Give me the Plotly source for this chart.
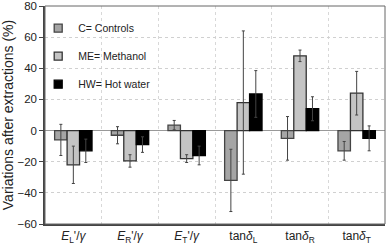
import plotly.graph_objects as go

categories = ["<i>E</i><sub>L</sub>'/<i>γ</i>", "<i>E</i><sub>R</sub>'/<i>γ</i>", "<i>E</i><sub>T</sub>'/<i>γ</i>",
              "tan<i>δ</i><sub>L</sub>", "tan<i>δ</i><sub>R</sub>", "tan<i>δ</i><sub>T</sub>"]
x_pos = [0, 1, 2, 3, 4, 5]

controls = [-6, -3, 3.5, -32, -5, -13]
controls_err = [10, 5.5, 3, 20, 14, 6]
methanol = [-22, -19.5, -18, 18, 48, 24]
methanol_err = [12, 4, 2.5, 46, 3.7, 14]
hotwater = [-13, -9, -16, 23.5, 14, -5]
hotwater_err = [7.5, 5, 6, 15, 7.7, 8]

series = [
    ("C= Controls", controls, controls_err, "#a5a5a5", "#444444"),
    ("ME= Methanol", methanol, methanol_err, "#c4c4c4", "#333333"),
    ("HW= Hot water", hotwater, hotwater_err, "#000000", "#000000"),
]

fig = go.Figure()
for name, vals, errs, fill, line in series:
    fig.add_trace(go.Bar(
        x=x_pos, y=vals, name=name, showlegend=False,
        marker=dict(color=fill, line=dict(color=line, width=1.3)),
        error_y=dict(type="data", array=errs, visible=True, color="#444444", thickness=1, width=1.5),
    ))
# legend entries (small square keys)
for name, vals, errs, fill, line in series:
    fig.add_trace(go.Scatter(
        x=[None], y=[None], mode="markers", name=name, legendgroup=name,
        marker=dict(symbol="square", size=8, color=fill, line=dict(color=line, width=1.3)),
    ))

fig.update_layout(
    width=387, height=247,
    margin=dict(l=45, r=2, t=6, b=23, autoexpand=False),
    paper_bgcolor="white", plot_bgcolor="white",
    barmode="group", bargap=0.34, bargroupgap=0,
    font=dict(family="Arial, Liberation Sans, sans-serif", size=11, color="#222222"),
    legend=dict(x=-0.02, y=0.965, xanchor="left", yanchor="top", bgcolor="rgba(0,0,0,0)",
                tracegroupgap=9, font=dict(size=10.5), itemwidth=30),
    showlegend=True,
)
fig.update_xaxes(
    range=[-0.5, 5.5], tickmode="array", tickvals=x_pos, ticktext=categories,
    showgrid=False, showline=True, linecolor="#444444", linewidth=1.5, mirror=False,
    ticks="", zeroline=False, automargin=False,
    minor=dict(tickmode="linear", tick0=0.5, dtick=1, showgrid=True, gridcolor="#d8d8d8",
               griddash="dot", gridwidth=1, ticks=""),
    tickfont=dict(size=12),
)
fig.update_yaxes(
    range=[-60, 80], dtick=20, showgrid=True, gridcolor="#d0d0d0", griddash="dot",
    zeroline=True, zerolinecolor="#999999", zerolinewidth=1,
    showline=True, linecolor="#444444", linewidth=1.5, ticks="outside", ticklen=4,
    tickcolor="#444444", automargin=False,
    title=dict(text="Variations after extractions (%)", font=dict(size=14), standoff=2),
    tickfont=dict(size=11.5),
)
fig.add_shape(type="rect", xref="paper", yref="paper", x0=0, y0=0, x1=1, y1=1,
              line=dict(color="#666666", width=1), layer="above")

fig.write_html("out.html", config={"displayModeBar": False},
               post_script="document.body.style.margin='0';document.body.style.overflow='hidden';")
